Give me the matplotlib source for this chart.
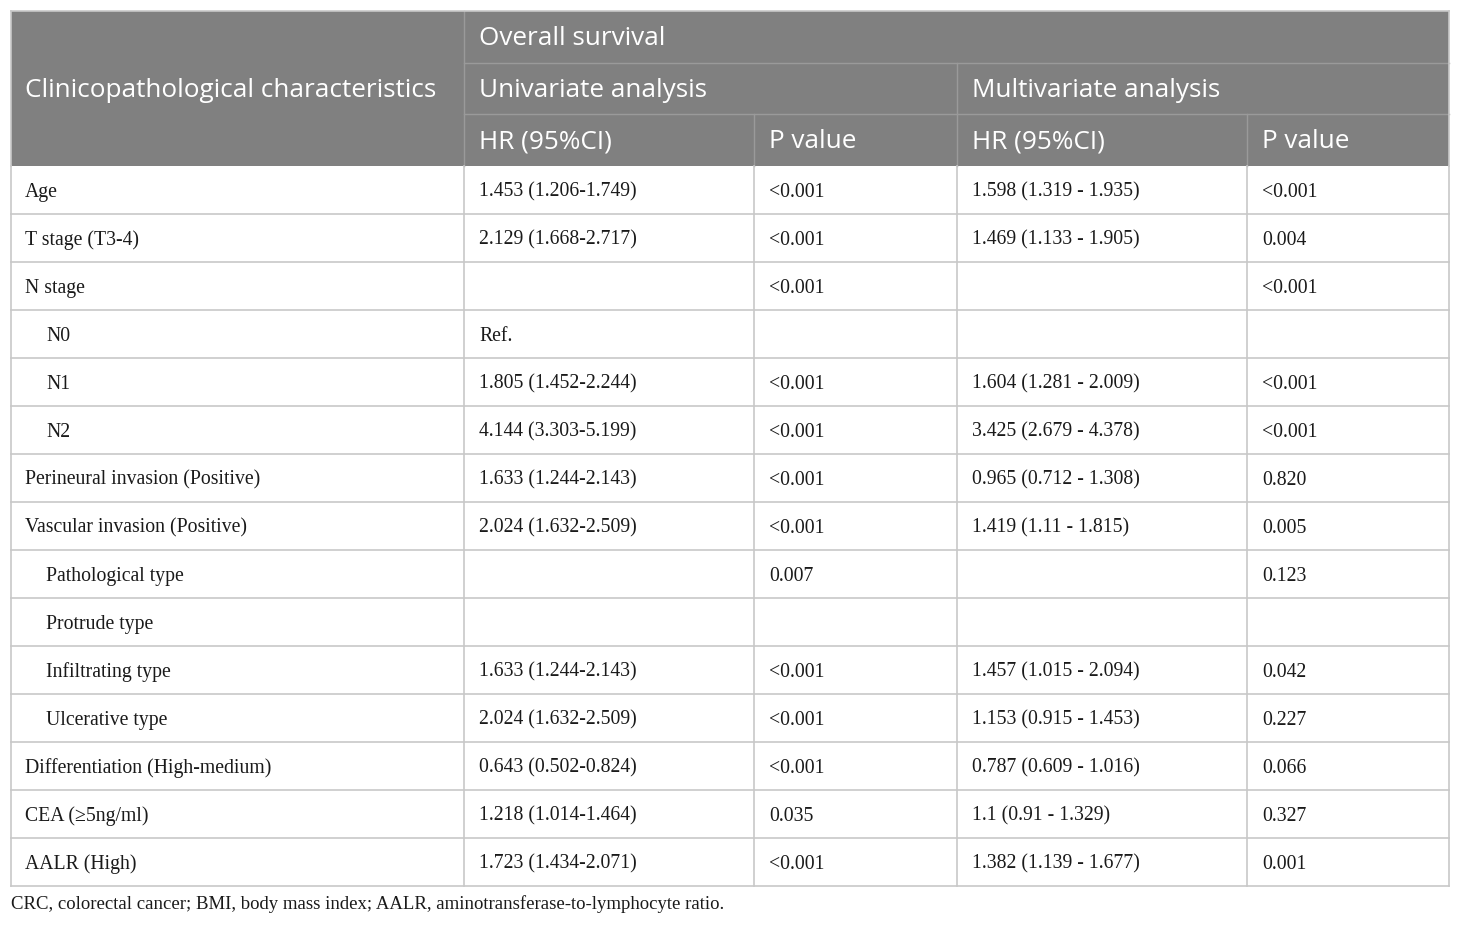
import matplotlib
matplotlib.use("Agg")
import matplotlib.pyplot as plt
from matplotlib.patches import Rectangle

# ---- data ----
characteristics = ["Age", "T stage (T3-4)", "N stage", "N0", "N1", "N2",
                   "Perineural invasion (Positive)", "Vascular invasion (Positive)",
                   "Pathological type", "Protrude type", "Infiltrating type",
                   "Ulcerative type", "Differentiation (High-medium)",
                   "CEA (\u22655ng/ml)", "AALR (High)"]
indented = [False, False, False, True, True, True, False, False,
            True, True, True, True, False, False, False]
uni_hr = ["1.453 (1.206-1.749)", "2.129 (1.668-2.717)", "", "Ref.",
          "1.805 (1.452-2.244)", "4.144 (3.303-5.199)", "1.633 (1.244-2.143)",
          "2.024 (1.632-2.509)", "", "", "1.633 (1.244-2.143)",
          "2.024 (1.632-2.509)", "0.643 (0.502-0.824)", "1.218 (1.014-1.464)",
          "1.723 (1.434-2.071)"]
uni_p = ["<0.001", "<0.001", "<0.001", "", "<0.001", "<0.001", "<0.001",
         "<0.001", "0.007", "", "<0.001", "<0.001", "<0.001", "0.035", "<0.001"]
multi_hr = ["1.598 (1.319 - 1.935)", "1.469 (1.133 - 1.905)", "", "",
            "1.604 (1.281 - 2.009)", "3.425 (2.679 - 4.378)",
            "0.965 (0.712 - 1.308)", "1.419 (1.11 - 1.815)", "", "",
            "1.457 (1.015 - 2.094)", "1.153 (0.915 - 1.453)",
            "0.787 (0.609 - 1.016)", "1.1 (0.91 - 1.329)", "1.382 (1.139 - 1.677)"]
multi_p = ["<0.001", "0.004", "<0.001", "", "<0.001", "<0.001", "0.820",
           "0.005", "0.123", "", "0.042", "0.227", "0.066", "0.327", "0.001"]
header_top = "Overall survival"
header_mid = ["Univariate analysis", "Multivariate analysis"]
header_sub = ["HR (95%CI)", "P value", "HR (95%CI)", "P value"]
first_header = "Clinicopathological characteristics"
footnote = "CRC, colorectal cancer; BMI, body mass index; AALR, aminotransferase-to-lymphocyte ratio."

# ---- layout (pixels) ----
W, H = 1460, 925
col_x = [11, 464, 754, 957, 1247, 1449]
top = 11
hdr_rows = [11, 63, 114, 166]
row_h = 48
n = len(characteristics)
bottom = hdr_rows[-1] + n * row_h

HDR_BG = "#808080"
HDR_LINE = "#9a9a9a"
BODY_LINE = "#c8c8c8"
HFONT = "Open Sans"
BFONT = "Liberation Serif"
HSIZE = 18.8
BSIZE = 14.2
FSIZE = 13.5

fig = plt.figure(figsize=(W / 100, H / 100), dpi=100)
ax = fig.add_axes([0, 0, 1, 1])
ax.set_xlim(0, W)
ax.set_ylim(H, 0)
ax.axis("off")

# header background
ax.add_patch(Rectangle((col_x[0], top), col_x[-1] - col_x[0], hdr_rows[-1] - top,
                       facecolor=HDR_BG, edgecolor="none", zorder=1))

# header lines
lw_h = 1.0
ax.plot([col_x[1], col_x[1]], [top, hdr_rows[3]], color=HDR_LINE, lw=lw_h, zorder=2)
ax.plot([col_x[1], col_x[5]], [hdr_rows[1], hdr_rows[1]], color=HDR_LINE, lw=lw_h, zorder=2)
ax.plot([col_x[1], col_x[5]], [hdr_rows[2], hdr_rows[2]], color=HDR_LINE, lw=lw_h, zorder=2)
ax.plot([col_x[3], col_x[3]], [hdr_rows[1], hdr_rows[3]], color=HDR_LINE, lw=lw_h, zorder=2)
for c in (2, 4):
    ax.plot([col_x[c], col_x[c]], [hdr_rows[2], hdr_rows[3]], color=HDR_LINE, lw=lw_h, zorder=2)

# header texts (baseline aligned)
pad = 15
hbase = 8.3
def htext(x, y0, y1, t):
    ax.text(x, (y0 + y1) / 2 + hbase, t, color="white", fontsize=HSIZE,
            family=HFONT, va="baseline", ha="left", zorder=3)

htext(col_x[0] + 14, top, hdr_rows[3], first_header)
htext(col_x[1] + pad, hdr_rows[0], hdr_rows[1], header_top)
for i, t in enumerate(header_mid):
    htext(col_x[1 + 2 * i] + pad, hdr_rows[1], hdr_rows[2], t)
for i, t in enumerate(header_sub):
    htext(col_x[1 + i] + pad, hdr_rows[2], hdr_rows[3], t)

# body lines
lw_b = 1.2
for r in range(1, n + 1):
    y = hdr_rows[-1] + r * row_h
    ax.plot([col_x[0], col_x[-1]], [y, y], color=BODY_LINE, lw=lw_b, zorder=2)
for cx in col_x:
    ax.plot([cx, cx], [hdr_rows[-1], bottom], color=BODY_LINE, lw=lw_b, zorder=2)
# outer border of header
ax.plot([col_x[0], col_x[-1]], [top, top], color=BODY_LINE, lw=lw_b, zorder=2)
ax.plot([col_x[0], col_x[0]], [top, hdr_rows[-1]], color=BODY_LINE, lw=lw_b, zorder=2)
ax.plot([col_x[-1], col_x[-1]], [top, hdr_rows[-1]], color=BODY_LINE, lw=lw_b, zorder=2)

# body text (baseline aligned)
cols = [characteristics, uni_hr, uni_p, multi_hr, multi_p]
bbase = 6.8
for r in range(n):
    yb = hdr_rows[-1] + r * row_h + row_h / 2 + bbase
    for c, colvals in enumerate(cols):
        t = colvals[r]
        if not t:
            continue
        x = col_x[c] + (14 if c == 0 else pad)
        if c == 0 and indented[r]:
            x = col_x[c] + 35
        ax.text(x, yb, t, color="#1a1a1a", fontsize=BSIZE, family=BFONT,
                va="baseline", ha="left", zorder=3)

ax.text(col_x[0], bottom + 23, footnote, color="#1a1a1a", fontsize=FSIZE,
        family=BFONT, va="baseline", ha="left")

fig.savefig("out.png", dpi=100)
